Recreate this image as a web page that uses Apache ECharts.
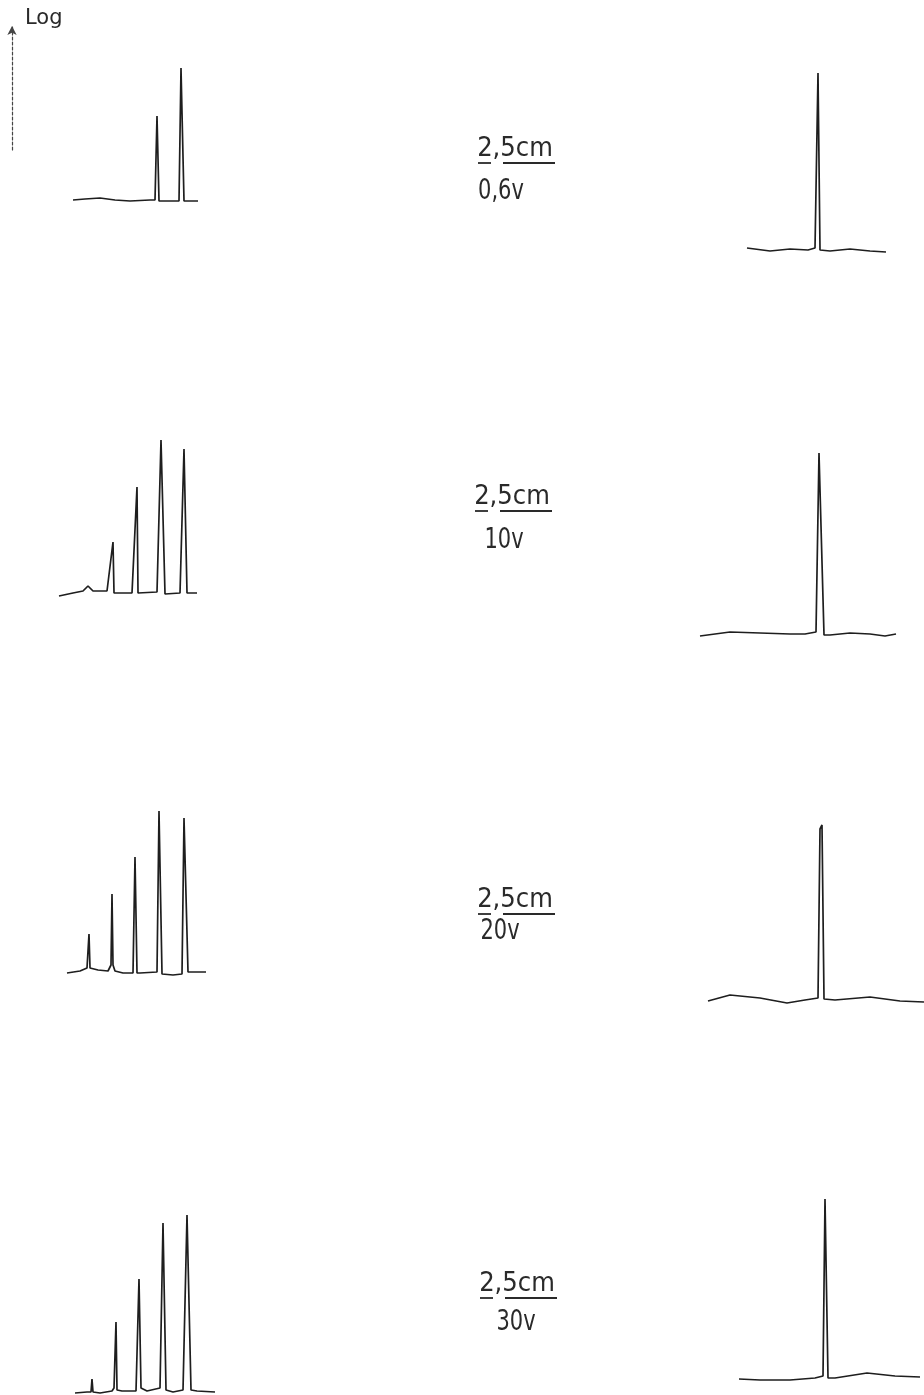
<!DOCTYPE html>
<html>
<head>
<meta charset="utf-8">
<script src="https://cdn.jsdelivr.net/npm/echarts@6/dist/echarts.min.js"></script>
<style>
html, body { margin: 0; padding: 0; background: #fff; }
#chart { width: 924px; height: 1395px; }
</style>
</head>
<body>
<div id="chart"></div>
<script>
// voltage of each run (one row each)
var voltages = ['0,6v', '10v', '20v', '30v'];
var scaleText = '2,5cm';
var axisName = 'Log';

// left traces: [position, signal above baseline]
var left06v = [[0,0],[12,1],[27,2],[42,0],[57,-1],[77,0],[82,0],[84,84],[86,-1],[102,-1],[106,-1],[108,132],[111,-1],[125,-1]];
var left10v = [[0,-4],[14,-1],[24,1],[29,6],[34,1],[48,1],[49,1],[54,50],[55,-1],[73,-1],[78,105],[79,-1],[98,0],[102,152],[106,-2],[121,-1],[125,143],[128,-1],[138,-1]];
var left20v = [[0,-2],[13,0],[20,3],[22,37],[23,3],[31,1],[41,0],[44,6],[45,77],[46,6],[48,0],[56,-2],[66,-2],[68,114],[70,-2],[73,-2],[90,-1],[92,160],[95,-3],[96,-4],[106,-4],[115,-3],[117,153],[121,-1],[139,-1]];
var left30v = [[0,-3],[12,-2],[16,-2],[17,11],[18,-2],[25,-3],[37,-1],[39,2],[41,68],[42,0],[47,-1],[61,-1],[63,1],[64,111],[66,2],[72,-1],[85,2],[88,167],[91,0],[98,-2],[108,0],[112,175],[116,0],[122,-1],[140,-2]];

// right traces: single peak
var right06v = [[0,1],[23,-2],[43,0],[61,-1],[68,1],[70,3],[71,176],[73,-1],[83,-2],[103,0],[123,-2],[139,-3]];
var right10v = [[0,-2],[30,2],[60,1],[90,0],[105,0],[116,2],[119,181],[121,179],[124,-1],[130,-1],[150,1],[170,0],[185,-2],[196,0]];
var right20v = [[0,-2],[22,4],[52,1],[79,-4],[97,-1],[110,1],[112,170],[114,174],[116,0],[127,-1],[162,2],[192,-2],[216,-3]];
var right30v = [[0,0],[21,-1],[51,-1],[76,1],[84,3],[86,180],[89,1],[96,1],[128,6],[156,3],[181,2]];

var leftTraces = [left06v, left10v, left20v, left30v];
var rightTraces = [right06v, right10v, right20v, right30v];

// layout of each row (pixels)
var leftX0 = [73, 59, 67, 75], leftBase = [200, 592, 971, 1390];
var rightX0 = [747, 700, 708, 739], rightBase = [249, 634, 999, 1379];
var labelX = [515, 512, 515, 517];
var labelX2 = [501, 504, 500, 516];
var labelY = [149, 497, 900, 1284];
var labelY2 = [192, 541, 932, 1323];

var ink = '#1e1e1e';
var textInk = '#2a2a2a';
var grid = [], xAxis = [], yAxis = [], series = [], graphic = [];

function addTrace(data, x0, base) {
    var i = grid.length;
    var w = data[data.length - 1][0];
    // 1 unit = 1 px in both directions
    grid.push({ left: x0, top: base - 190, width: w, height: 195 });
    xAxis.push({ type: 'value', gridIndex: i, min: 0, max: w, show: false });
    yAxis.push({ type: 'value', gridIndex: i, min: -5, max: 190, show: false });
    series.push({
        type: 'line', xAxisIndex: i, yAxisIndex: i, data: data,
        showSymbol: false, clip: false, silent: true,
        lineStyle: { color: ink, width: 1.7 }
    });
}

for (var r = 0; r < 4; r++) {
    addTrace(leftTraces[r], leftX0[r], leftBase[r]);
    addTrace(rightTraces[r], rightX0[r], rightBase[r]);

    // "2,5cm" over voltage, with the underlines
    graphic.push({
        type: 'text', x: labelX[r], y: labelY[r], scaleX: 0.9,
        style: { text: scaleText, fontSize: 27, fontFamily: 'DejaVu Sans', fill: textInk, align: 'center', verticalAlign: 'middle' }
    });
    graphic.push({
        type: 'line', shape: { x1: labelX[r] - 37, y1: labelY[r] + 14, x2: labelX[r] - 24, y2: labelY[r] + 14 },
        style: { stroke: textInk, lineWidth: 1.8 }
    });
    graphic.push({
        type: 'line', shape: { x1: labelX[r] - 12, y1: labelY[r] + 14, x2: labelX[r] + 40, y2: labelY[r] + 14 },
        style: { stroke: textInk, lineWidth: 1.8 }
    });
    graphic.push({
        type: 'text', x: labelX2[r], y: labelY2[r], scaleX: 0.75,
        style: { text: voltages[r], fontSize: 28, fontFamily: 'DejaVu Sans', fill: textInk, align: 'center', verticalAlign: 'middle' }
    });
}

// axis name next to the arrow
graphic.push({
    type: 'text', x: 25, y: 8,
    style: { text: axisName, fontSize: 21, fontFamily: 'DejaVu Sans', fill: textInk, align: 'left', verticalAlign: 'top' }
});

// dashed log axis with arrow at top-left
var g = grid.length;
grid.push({ left: 12, top: 26, width: 10, height: 124 });
xAxis.push({ type: 'value', gridIndex: g, show: false });
yAxis.push({
    type: 'value', gridIndex: g, min: 0, max: 1,
    axisLine: { show: true, symbol: ['none', 'arrow'], symbolSize: [7, 9], lineStyle: { color: '#444', width: 1.2, type: [3, 2] } },
    axisTick: { show: false }, axisLabel: { show: false }, splitLine: { show: false }
});

var myChart = echarts.init(document.getElementById('chart'));
var option = {
    backgroundColor: '#fff',
    animation: false,
    grid: grid,
    xAxis: xAxis,
    yAxis: yAxis,
    series: series,
    graphic: graphic
};
myChart.setOption(option);
</script>
</body>
</html>
